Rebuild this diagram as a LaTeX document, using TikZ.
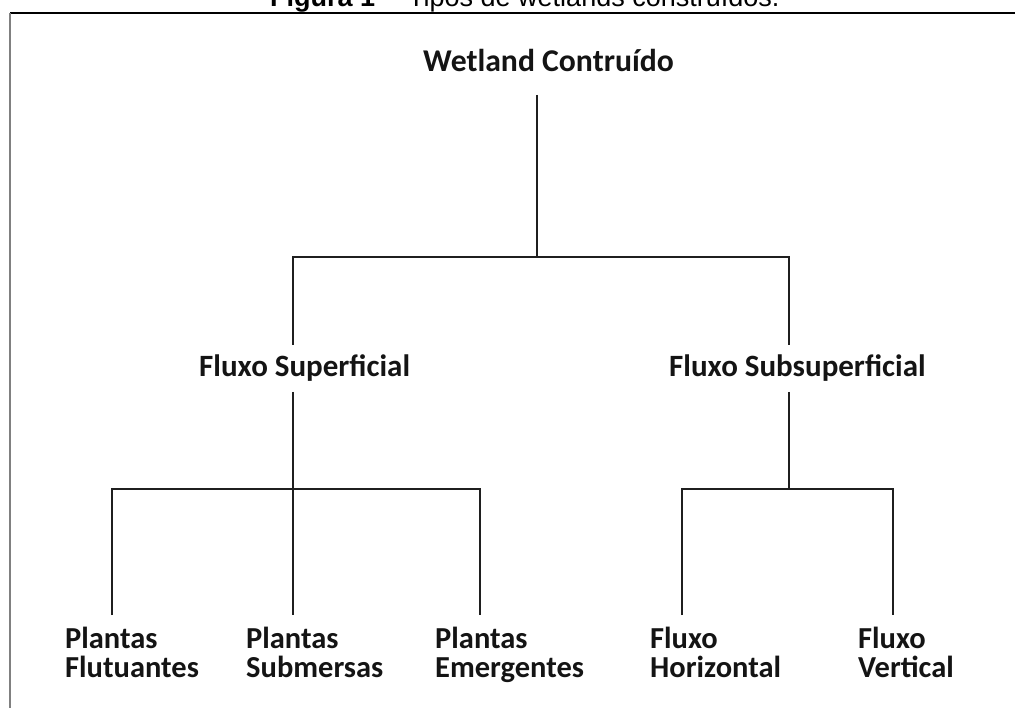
\documentclass[tikz,border=0pt]{standalone}
\usepackage{fontspec}
\setmainfont{Carlito}
\newfontfamily\capfont{Liberation Sans}
\begin{document}
\begin{tikzpicture}[x=1pt,y=-1pt,
  lbl/.style={inner sep=0pt, anchor=base west, font=\bfseries\fontsize{31}{29}\selectfont, text=black!92},
  leaf/.style={inner sep=0pt, anchor=base west, align=left, font=\bfseries\fontsize{30.5}{29}\selectfont, text=black!92},
  conn/.style={line width=1.7pt, black!88}]
\useasboundingbox (0,0) rectangle (1015,708);
% caption and frame
\node[inner sep=0pt, anchor=base west, font=\capfont\fontsize{27}{32}\selectfont] (cap) at (270,7) {\textbf{Figura 1} -- Tipos de wetlands construídos.};
\draw[line width=1.5pt, black] (10,13) -- (1015,13);
\draw[line width=2pt, black!50] (10,13) -- (10,708);
% nodes
\node[lbl, font=\bfseries\fontsize{31.7}{32}\selectfont] (wc) at (423,72) {Wetland Contruído};
\node[lbl] (fs) at (199,377) {Fluxo Superficial};
\node[lbl] (fss) at (669,377) {Fluxo Subsuperficial};
\node[leaf] (pf) at (65,677) {Plantas\\Flutuantes};
\node[leaf] (ps) at (246,677) {Plantas\\Submersas};
\node[leaf] (pe) at (435,677) {Plantas\\Emergentes};
\node[leaf] (fh) at (650,677) {Fluxo\\Horizontal};
\node[leaf] (fv) at (858,677) {Fluxo\\Vertical};
% connector anchors
\coordinate (wcS) at (537,95);
\coordinate (j0) at (537,257);
\coordinate (fsN) at (293,345);
\coordinate (fssN) at (789,345);
\coordinate (fsS) at (293,392);
\coordinate (fssS) at (789,392);
\coordinate (j1) at (293,489);
\coordinate (j2) at (789,489);
\coordinate (pfN) at (112,615);
\coordinate (psN) at (293,615);
\coordinate (peN) at (480,615);
\coordinate (fhN) at (682,615);
\coordinate (fvN) at (893,615);
% connectors
\draw[conn] (wcS) -- (j0);
\draw[conn] (fsN) |- (j0) -| (fssN);
\draw[conn] (fsS) -- (j1);
\draw[conn] (pfN) |- (j1) -| (peN);
\draw[conn] (j1) -- (psN);
\draw[conn] (fssS) -- (j2);
\draw[conn] (fhN) |- (j2) -| (fvN);
\end{tikzpicture}
\end{document}
